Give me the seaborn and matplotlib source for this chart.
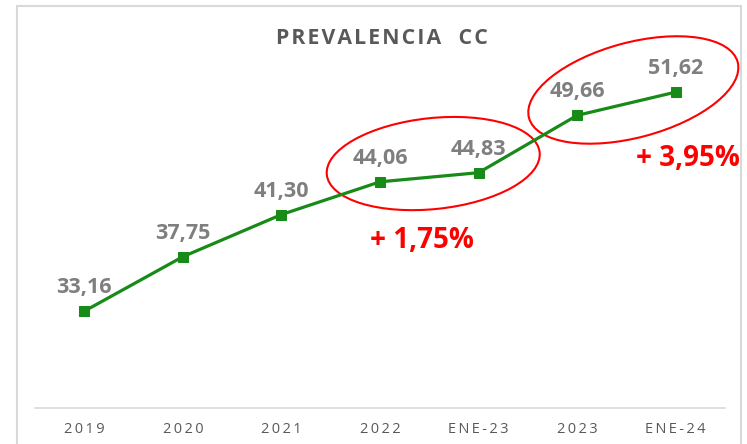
import matplotlib
matplotlib.use("Agg")
import matplotlib.pyplot as plt
import matplotlib.transforms as mtransforms
from matplotlib.patches import Ellipse, Rectangle
import seaborn as sns

# Chart data
periods = ["2019", "2020", "2021", "2022", "ENE-23", "2023", "ENE-24"]
prevalence = [33.16, 37.75, 41.30, 44.06, 44.83, 49.66, 51.62]
title = "PREVALENCIA  CC"
growth_labels = ["+ 1,75%", "+ 3,95%"]

sns.set_style("white")
plt.rcParams["font.family"] = ["Open Sans", "DejaVu Sans"]

GREEN = "#178a17"
GREY_LABEL = "#7f7f7f"
GREY_TEXT = "#595959"
LIGHT = "#d9d9d9"


def spaced(text, gap="\u200a"):
    # crude letter spacing
    return gap.join(text)


fig = plt.figure(figsize=(7.47, 4.44), dpi=100)
ax = fig.add_axes([35 / 747, 1 - 408 / 444, 690 / 747, 356 / 444])

sns.lineplot(x=periods, y=prevalence, sort=False, ax=ax, color=GREEN,
             linewidth=2.3, marker="s", markersize=7.5,
             markerfacecolor=GREEN, markeredgecolor=GREEN)

ax.set_xlim(-0.5, len(periods) - 0.5)
ax.set_ylim(25, 55)
ax.set_xlabel("")
ax.set_ylabel("")
ax.set_yticks([])
ax.set_xticks(range(len(periods)))
ax.set_xticklabels([spaced(p, "\u2009") for p in periods], fontsize=10.5,
                   color=GREY_TEXT)
ax.tick_params(axis="x", length=0, pad=10)
for side in ["top", "left", "right"]:
    ax.spines[side].set_visible(False)
ax.spines["bottom"].set_color(LIGHT)
ax.spines["bottom"].set_linewidth(1.2)

# value labels
for i, v in enumerate(prevalence):
    ax.annotate(f"{v:.2f}".replace(".", ","), (i, v), xytext=(0, 13),
                textcoords="offset points", ha="center", va="baseline",
                fontsize=15.5, fontweight="bold", color=GREY_LABEL)

# highlight ellipses (centre in data units, size in inches)
for (cx, cy), w, h, ang in [((3.54, 45.6), 2.14, 0.91, 6),
                            ((5.57, 51.8), 2.16, 0.95, 15)]:
    trans = fig.dpi_scale_trans + mtransforms.ScaledTranslation(cx, cy, ax.transData)
    ax.add_artist(Ellipse((0, 0), w, h, angle=ang, transform=trans,
                          fill=False, edgecolor="red", linewidth=1.5,
                          clip_on=False))

ax.text(3.43, 38.5, growth_labels[0], ha="center", va="baseline",
        fontsize=20, fontweight="bold", color="red")
ax.text(6.12, 45.4, growth_labels[1], ha="center", va="baseline",
        fontsize=20, fontweight="bold", color="red", clip_on=False)

fig.text(382 / 747, 1 - 44 / 444, spaced(title), ha="center", va="baseline",
         fontsize=15.3, fontweight="bold", color=GREY_TEXT)

# chart frame
fig.patches.append(Rectangle((17 / 747, -0.02), 724 / 747, 1 - 6 / 444 + 0.02,
                             transform=fig.transFigure, fill=False,
                             edgecolor=LIGHT, linewidth=1.5))

fig.savefig("out.png", dpi=100)
